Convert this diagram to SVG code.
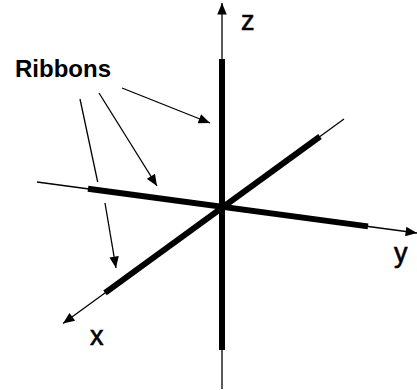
<svg xmlns="http://www.w3.org/2000/svg" width="417" height="390" viewBox="0 0 417 390">
  <style>
    .thin { stroke: #000; stroke-width: 1.3; fill: none; }
    .thick { stroke: #000; stroke-width: 6; stroke-linecap: butt; fill: none; }
    .lbl { font-family: "Liberation Sans", Arial, sans-serif; fill: #000; }
  </style>
  <defs>
    <marker id="ah" viewBox="0 0 12 10" refX="12" refY="5" markerWidth="12" markerHeight="9.5" markerUnits="userSpaceOnUse" orient="auto">
      <path d="M0,0 L12,5 L0,10 Z" fill="#000"/>
    </marker>
  </defs>
  <rect width="417" height="390" fill="#fff"/>
  <g id="axes">
    <!-- z axis -->
    <line class="thin" x1="222" y1="389" x2="222" y2="3" marker-end="url(#ah)"/>
    <line class="thick" x1="222" y1="59" x2="222" y2="350"/>
    <!-- y axis -->
    <line class="thin" x1="37" y1="182" x2="417" y2="233" marker-end="url(#ah)"/>
    <line class="thick" x1="88" y1="188.8" x2="368" y2="226.4"/>
    <!-- x axis -->
    <line class="thin" x1="344" y1="119" x2="63" y2="323.5" marker-end="url(#ah)"/>
    <line class="thick" x1="320" y1="136.5" x2="105" y2="292.9"/>
  </g>
  <g id="connectors">
    <line class="thin" x1="122" y1="88" x2="210" y2="123" marker-end="url(#ah)"/>
    <line class="thin" x1="99" y1="93" x2="157" y2="186" marker-end="url(#ah)"/>
    <line class="thin" x1="80" y1="99" x2="97.7" y2="182"/>
    <line class="thin" x1="105" y1="203" x2="116" y2="268" marker-end="url(#ah)"/>
  </g>
  <g id="label-ribbons"><text class="lbl" x="15" y="77" font-size="24" font-weight="bold">Ribbons</text></g>
  <g id="label-z"><text class="lbl" x="241" y="30" font-size="27" stroke="#000" stroke-width="0.6">z</text></g>
  <g id="label-y"><text class="lbl" x="394" y="262" font-size="27" stroke="#000" stroke-width="0.6">y</text></g>
  <g id="label-x"><text class="lbl" x="90" y="345" font-size="27" stroke="#000" stroke-width="0.6">x</text></g>
</svg>
